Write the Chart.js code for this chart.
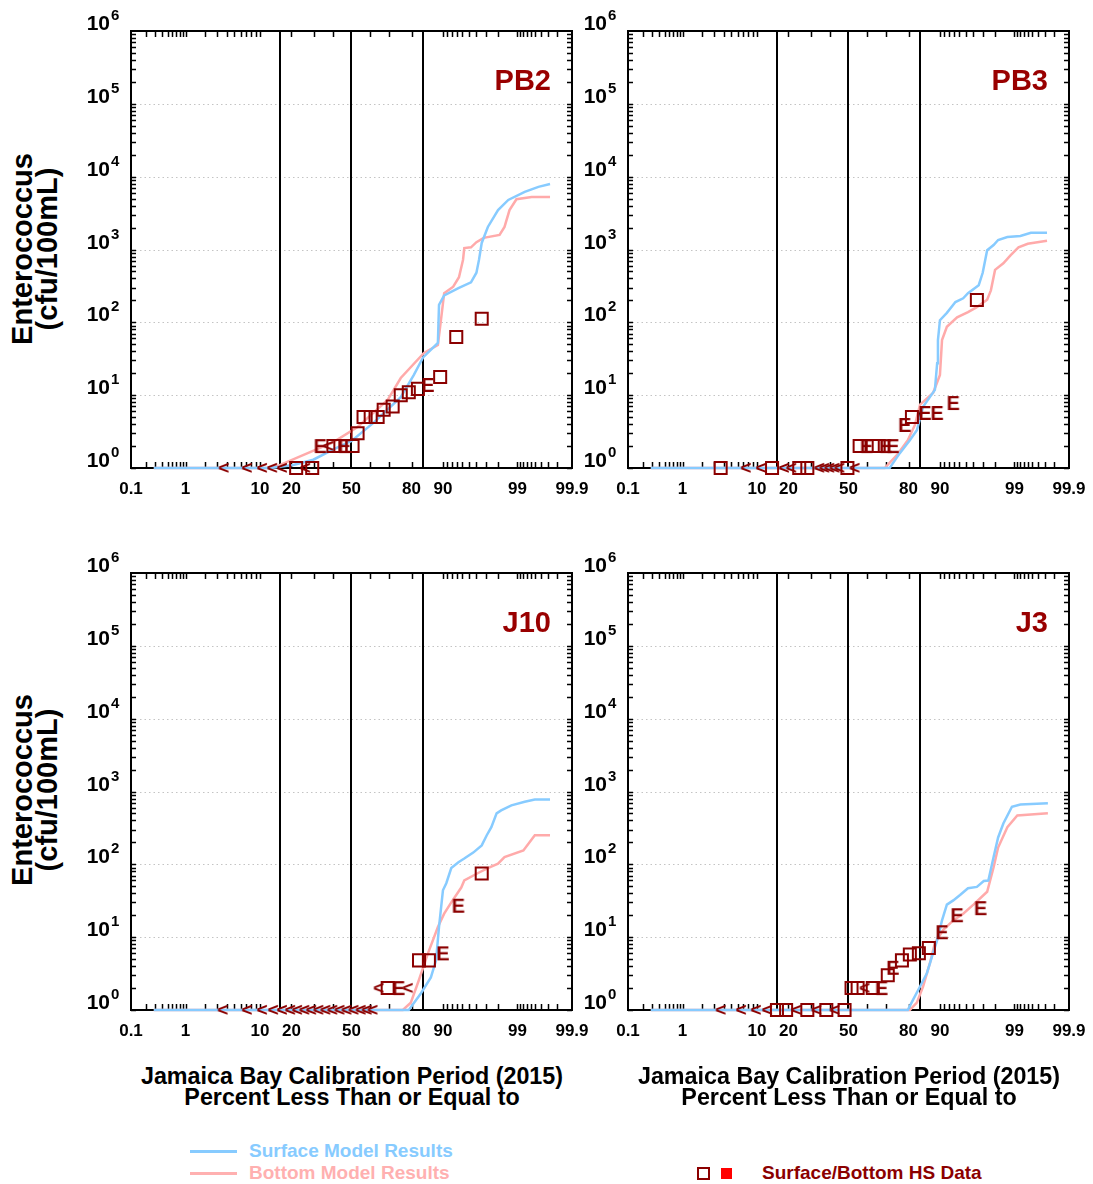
<!DOCTYPE html>
<html>
<head>
<meta charset="utf-8">
<script src="https://cdn.jsdelivr.net/npm/chart.js@4.4.1/dist/chart.umd.min.js"></script>
<style>
  body { margin: 0; background: #fff; width: 1093px; height: 1184px; position: relative; overflow: hidden;
         font-family: "Liberation Sans", Arial, sans-serif; }
  canvas { position: absolute; }
  .ytitle { position: absolute; width: 260px; height: 50px; text-align: center; font-weight: bold;
            font-size: 29px; line-height: 25px; transform: rotate(-90deg); }
  .xtitle { position: absolute; width: 480px; text-align: center; font-weight: bold; font-size: 23.3px; line-height: 21px; }
  .leg { position: absolute; font-weight: bold; font-size: 19px; line-height: 20px; white-space: nowrap; }
  .bar { position: absolute; height: 3px; width: 47px; }
</style>
</head>
<body>
<canvas id="c1" width="512" height="513" style="left:83px;top:0px"></canvas>
<canvas id="c2" width="512" height="513" style="left:580px;top:0px"></canvas>
<canvas id="c3" width="512" height="513" style="left:83px;top:542px"></canvas>
<canvas id="c4" width="512" height="513" style="left:580px;top:542px"></canvas>

<div class="ytitle" style="left:-95px;top:224px">Enterococcus<br>(cfu/100mL)</div>
<div class="ytitle" style="left:-95px;top:765px">Enterococcus<br>(cfu/100mL)</div>

<div class="xtitle" style="left:112px;top:1066px">Jamaica Bay Calibration Period (2015)<br>Percent Less Than or Equal to</div>
<div class="xtitle" style="left:609px;top:1066px">Jamaica Bay Calibration Period (2015)<br>Percent Less Than or Equal to</div>

<div class="bar" style="left:190px;top:1150px;background:#87cbff"></div>
<div class="leg" style="left:249px;top:1141px;color:#87cbff">Surface Model Results</div>
<div class="bar" style="left:190px;top:1172px;background:#ffb0b0"></div>
<div class="leg" style="left:249px;top:1163px;color:#ffb0b0">Bottom Model Results</div>
<div style="position:absolute;left:697px;top:1167px;width:9px;height:9px;border:2px solid #8b0000"></div>
<div style="position:absolute;left:721px;top:1168px;width:11px;height:11px;background:#ff0000"></div>
<div class="leg" style="left:762px;top:1163px;color:#8b0000">Surface/Bottom HS Data</div>

<script>
// x axis: percent less than or equal to (normal probability scale)
const xTickPct = [0.1, 1, 10, 20, 50, 80, 90, 99, 99.9];
const xTickLabels = ["0.1", "1", "10", "20", "50", "80", "90", "99", "99.9"];
const xMinorPct = [0.2, 0.3, 0.4, 0.5, 0.6, 0.7, 0.8, 0.9, 1, 2, 3, 4, 5, 6, 7, 8, 9, 10, 20, 30, 40, 60, 70, 80,
                   90, 91, 92, 93, 94, 95, 96, 97, 98, 99, 99.1, 99.2, 99.3, 99.4, 99.5, 99.6, 99.7, 99.8];
const refPct = [15.87, 50, 84.13];
const yExponents = [0, 1, 2, 3, 4, 5, 6];

// PB2
const pb2SurfPct = [0.28, 12.7, 20.7, 29.6, 40.0, 50.0, 62.2, 75.5, 80.9, 84.2, 88.7, 89.0, 90.3, 93.3, 95.3, 96.0, 96.3, 96.6, 97.2, 98.0, 98.6, 99.24, 99.56, 99.73];
const pb2SurfVal = [1, 1, 1.1, 1.3, 1.8, 2.35, 4.2, 9.4, 19, 33, 52, 174, 234, 295, 355, 480, 720, 1230, 2040, 3470, 4790, 6170, 7240, 7940];
const pb2BotPct = [0.28, 11.8, 14.2, 40.0, 53.4, 69.4, 75.5, 84.5, 88.7, 89.5, 90.3, 92.3, 93.4, 94.1, 94.3, 95.3, 96.0, 96.8, 98.1, 98.4, 98.66, 98.96, 99.42, 99.73];
const pb2BotVal = [1, 1, 1.03, 2.27, 3.66, 8.6, 17.2, 37.9, 48.9, 107, 251, 309, 417, 724, 1047, 1072, 1260, 1445, 1585, 2040, 3470, 4900, 5250, 5250];
const pb2ObsPct = [3.66, 7.12, 10.5, 13.3, 16.5, 21.9, 25.8, 29.1, 33.1, 37.3, 40.0, 43.8, 46.1, 50.6, 53.4, 56.7, 60.6, 64.3, 67.4, 71.8, 75.5, 78.9, 82.4, 85.8, 89.3, 92.9, 96.6];
const pb2ObsVal = [1, 1, 1, 1, 1, 1, 1, 1, 2, 2, 2, 2, 2, 2, 3, 5, 5, 5, 6.3, 7, 10, 11, 12.2, 13.8, 17.8, 63, 112];
const pb2ObsType = ['<', '<', '<', '<', '<', 'S', '<', 'S', 'E', '<', 'S', 'S', 'E', 'S', 'S', 'S', 'S', 'S', 'S', 'S', 'S', 'S', 'S', 'E', 'S', 'S', 'S'];

// PB3
const pb3SurfPct = [0.28, 71.8, 76.4, 80.5, 83.1, 85.2, 88.7, 89.3, 89.5, 90.0, 91.6, 93.3, 94.6, 95.3, 96.6, 97.0, 97.4, 97.9, 98.2, 98.7, 99.2, 99.47, 99.73];
const pb3SurfVal = [1, 1, 1.6, 2.4, 3.3, 6.9, 11.8, 27.5, 57, 107, 135, 190, 214, 251, 324, 479, 977, 1150, 1350, 1480, 1530, 1700, 1700];
const pb3BotPct = [0.28, 69.4, 75.1, 79.7, 82.4, 84.2, 88.2, 90.0, 90.5, 91.6, 93.6, 95.3, 96.4, 97.4, 97.7, 98.0, 98.5, 98.84, 99.14, 99.4, 99.73];
const pb3BotVal = [1, 1, 1.5, 2.4, 3.9, 7.4, 10.7, 19, 57, 87, 117, 138, 162, 204, 275, 525, 646, 832, 1070, 1200, 1320];
const pb3ObsPct = [3.66, 7.5, 11.0, 14.2, 18.3, 21.1, 24.5, 28.2, 34.1, 36.7, 39.4, 42.2, 44.9, 49.4, 53.4, 56.2, 60.0, 63.3, 66.4, 69.9, 73.3, 78.5, 81.3, 85.8, 89.3, 92.9, 96.4];
const pb3ObsVal = [1, 1, 1, 1, 1, 1, 1, 1, 1, 1, 1, 1, 1, 1, 1, 2, 2, 2, 2, 2, 2, 3.9, 5, 5.7, 5.7, 7.8, 203];
const pb3ObsType = ['S', '<', '<', 'S', '<', '<', 'S', 'S', '<', '<', '<', '<', '<', 'S', '<', 'S', 'E', 'S', 'S', 'E', 'E', 'E', 'S', 'E', 'E', 'E', 'S'];

// J10
const j10SurfPct = [0.28, 78.9, 83.5, 86.7, 88.2, 89.0, 90.0, 90.8, 91.9, 93.3, 94.3, 95.6, 96.6, 97.1, 97.5, 97.9, 98.2, 98.75, 99.24, 99.49, 99.73];
const j10SurfVal = [1, 1, 1.7, 2.8, 4.8, 13.8, 44, 55, 89, 107, 120, 145, 182, 251, 324, 501, 550, 646, 724, 776, 776];
const j10BotPct = [0.28, 76.4, 79.7, 82.8, 85.8, 88.7, 90.3, 91.9, 93.8, 94.3, 96.2, 97.2, 98.0, 98.4, 99.2, 99.49, 99.73];
const j10BotVal = [1, 1, 1.26, 2.6, 6.0, 13.8, 21, 30, 48, 60, 76, 89, 102, 126, 155, 251, 251];
const j10ObsPct = [3.55, 7.12, 10.5, 13.6, 16.5, 19.5, 22.3, 25.4, 28.6, 32.1, 35.7, 39.4, 43.3, 47.2, 51.1, 55.1, 58.4, 61.6, 64.8, 69.4, 74.6, 78.5, 82.8, 86.1, 90.0, 93.3, 96.6];
const j10ObsVal = [1, 1, 1, 1, 1, 1, 1, 1, 1, 1, 1, 1, 1, 1, 1, 1, 1, 1, 2, 2, 2, 2, 4.8, 4.8, 6.0, 27, 75];
const j10ObsType = ['<', '<', '<', '<', '<', '<', '<', '<', '<', '<', '<', '<', '<', '<', '<', '<', '<', '<', '<', 'S', 'E', '<', 'S', 'S', 'E', 'E', 'S'];

// J3
const j3SurfPct = [0.28, 79.7, 81.7, 84.2, 86.4, 87.9, 89.3, 90.5, 91.6, 92.9, 94.1, 95.3, 96.4, 97.1, 97.5, 97.9, 98.2, 98.5, 98.9, 99.2, 99.74];
const j3SurfVal = [1, 1, 1.38, 2.1, 3.2, 5.4, 9.1, 17, 28, 32, 38, 47, 49, 59, 60, 126, 234, 363, 617, 661, 692];
const j3BotPct = [0.28, 80.5, 83.1, 85.2, 87.3, 88.7, 90.8, 92.9, 94.6, 96.0, 97.4, 97.9, 98.2, 98.7, 99.1, 99.74];
const j3BotVal = [1, 1, 1.26, 2.1, 4.4, 8.3, 12.6, 17, 21, 28, 42, 91, 170, 324, 468, 501];
const j3ObsPct = [3.66, 6.6, 9.7, 12.7, 15.8, 19.1, 23.2, 28.2, 32.6, 37.8, 42.2, 47.8, 51.7, 55.1, 58.9, 63.3, 67.9, 70.9, 73.3, 77.3, 80.5, 83.8, 87.0, 90.5, 93.6, 96.8];
const j3ObsVal = [1, 1, 1, 1, 1, 1, 1, 1, 1, 1, 1, 1, 2, 2, 2, 2, 2, 3.0, 3.8, 4.8, 5.8, 6.0, 7.1, 11.7, 20, 25];
const j3ObsType = ['<', '<', '<', '<', 'S', 'S', '<', 'S', '<', 'S', '<', 'S', 'S', 'S', '<', 'S', 'E', 'S', 'E', 'S', 'S', 'S', 'S', 'E', 'E', 'E'];

const surfColor = '#87cbff';
const botColor = '#ffaaaa';
const obsColor = '#8b0000';
const FONT = '"Liberation Sans", Arial, sans-serif';

// inverse normal CDF (Acklam), turns a fraction into a probability-paper coordinate
function probit(p) {
  const a = [-39.69683028665376, 220.9460984245205, -275.9285104469687, 138.3577518672690, -30.66479806614716, 2.506628277459239];
  const b = [-54.47609879822406, 161.5858368580409, -155.6989798598866, 66.80131188771972, -13.28068155288572];
  const c = [-0.007784894002430293, -0.3223964580411365, -2.400758277161838, -2.549732539343734, 4.374664141464968, 2.938163982698783];
  const d = [0.007784695709041462, 0.3224671290700398, 2.445134137142996, 3.754408661907416];
  const lo = 0.02425;
  if (p < lo) {
    const q = Math.sqrt(-2 * Math.log(p));
    return (((((c[0] * q + c[1]) * q + c[2]) * q + c[3]) * q + c[4]) * q + c[5]) / ((((d[0] * q + d[1]) * q + d[2]) * q + d[3]) * q + 1);
  }
  if (p > 1 - lo) {
    const q = Math.sqrt(-2 * Math.log(1 - p));
    return -(((((c[0] * q + c[1]) * q + c[2]) * q + c[3]) * q + c[4]) * q + c[5]) / ((((d[0] * q + d[1]) * q + d[2]) * q + d[3]) * q + 1);
  }
  const q = p - 0.5, r = q * q;
  return (((((a[0] * r + a[1]) * r + a[2]) * r + a[3]) * r + a[4]) * r + a[5]) * q / (((((b[0] * r + b[1]) * r + b[2]) * r + b[3]) * r + b[4]) * r + 1);
}
const px = pct => probit(pct / 100);

function glyph(ch, font, dy) {
  const c = document.createElement('canvas');
  c.width = 26; c.height = 26;
  const g = c.getContext('2d');
  g.fillStyle = obsColor;
  g.font = font;
  g.textAlign = 'center';
  g.textBaseline = 'middle';
  g.fillText(ch, 13, 13 + dy);
  return c;
}
const glyphE = glyph('E', 'bold 20px ' + FONT, 1);
const glyphLt = glyph('<', 'bold 19px ' + FONT, 1);

// frame, ticks, grid, reference lines, y labels and station name
const framePlugin = {
  id: 'frame',
  beforeDatasetsDraw(chart, args, opts) {
    const { ctx, chartArea: a, scales: { x, y } } = chart;
    ctx.save();
    // dotted decade lines
    ctx.strokeStyle = '#c4c4c4';
    ctx.lineWidth = 1;
    ctx.setLineDash([1.5, 3]);
    yExponents.slice(1, -1).forEach(e => {
      const py = Math.round(y.getPixelForValue(Math.pow(10, e))) + 0.5;
      ctx.beginPath(); ctx.moveTo(a.left, py); ctx.lineTo(a.right, py); ctx.stroke();
    });
    ctx.setLineDash([]);
    // tick marks
    ctx.strokeStyle = '#000';
    ctx.lineWidth = 1.5;
    ctx.beginPath();
    xMinorPct.forEach(p => {
      const xx = Math.round(x.getPixelForValue(px(p))) + 0.5;
      ctx.moveTo(xx, a.top); ctx.lineTo(xx, a.top + 6);
      ctx.moveTo(xx, a.bottom); ctx.lineTo(xx, a.bottom - 6);
    });
    for (let e = 0; e < 6; e++) {
      for (let k = 1; k <= 9; k++) {
        const yy = Math.round(y.getPixelForValue(k * Math.pow(10, e))) + 0.5;
        ctx.moveTo(a.left, yy); ctx.lineTo(a.left + 5, yy);
        ctx.moveTo(a.right, yy); ctx.lineTo(a.right - 5, yy);
      }
    }
    ctx.stroke();
    // reference lines at -1 sigma, median, +1 sigma
    ctx.lineWidth = 2;
    refPct.forEach(p => {
      const xx = Math.round(x.getPixelForValue(px(p)));
      ctx.beginPath(); ctx.moveTo(xx, a.top); ctx.lineTo(xx, a.bottom); ctx.stroke();
    });
    // frame
    ctx.strokeRect(a.left, a.top, a.right - a.left, a.bottom - a.top);
    // y labels 10^n
    ctx.fillStyle = '#000';
    ctx.textBaseline = 'alphabetic';
    yExponents.forEach(e => {
      const yy = y.getPixelForValue(Math.pow(10, e));
      ctx.font = 'bold 21px ' + FONT;
      ctx.textAlign = 'right';
      ctx.fillText('10', a.left - 21, yy - 1);
      ctx.font = 'bold 15px ' + FONT;
      ctx.textAlign = 'left';
      ctx.fillText(String(e), a.left - 20, yy - 11);
    });
    // station name
    ctx.fillStyle = '#990000';
    ctx.font = 'bold 29px ' + FONT;
    ctx.textAlign = 'right';
    ctx.fillText(opts.label, a.right - 21, a.top + 59);
    ctx.restore();
  }
};

function makePanel(id, label, surfPct, surfVal, botPct, botVal, obsPct, obsVal, obsType) {
  const pts = (p, v) => p.map((q, i) => ({ x: px(q), y: v[i] }));
  return new Chart(document.getElementById(id), {
    type: 'scatter',
    data: {
      datasets: [
        {
          label: 'Surface/Bottom HS Data',
          data: pts(obsPct, obsVal),
          clip: false,
          pointStyle: c => obsType[c.dataIndex] === 'E' ? glyphE : obsType[c.dataIndex] === '<' ? glyphLt : 'rect',
          pointRadius: 8.5,
          borderColor: obsColor,
          borderWidth: 2,
          backgroundColor: 'rgba(0,0,0,0)'
        },
        {
          label: 'Surface Model Results',
          data: pts(surfPct, surfVal),
          showLine: true,
          clip: false,
          pointRadius: 0,
          borderColor: surfColor,
          borderWidth: 2.5,
          tension: 0
        },
        {
          label: 'Bottom Model Results',
          data: pts(botPct, botVal),
          showLine: true,
          clip: false,
          pointRadius: 0,
          borderColor: botColor,
          borderWidth: 2.5,
          tension: 0
        }
      ]
    },
    options: {
      responsive: false,
      animation: false,
      events: [],
      layout: { padding: { left: 48, top: 31, right: 23, bottom: 0 } },
      plugins: {
        legend: { display: false },
        tooltip: { enabled: false },
        frame: { label: label }
      },
      scales: {
        x: {
          type: 'linear',
          min: px(0.1),
          max: px(99.9),
          grid: { display: false },
          border: { display: false },
          afterBuildTicks: s => { s.ticks = xTickPct.map(p => ({ value: px(p) })); },
          afterFit: s => { s.height = 45; },
          ticks: {
            autoSkip: false,
            maxRotation: 0,
            padding: 3,
            color: '#000',
            font: { family: FONT, size: 17, weight: 'bold' },
            callback: (v, i) => xTickLabels[i]
          }
        },
        y: { type: 'logarithmic', display: false, min: 1, max: 1e6 }
      }
    },
    plugins: [framePlugin]
  });
}

makePanel('c1', 'PB2', pb2SurfPct, pb2SurfVal, pb2BotPct, pb2BotVal, pb2ObsPct, pb2ObsVal, pb2ObsType);
makePanel('c2', 'PB3', pb3SurfPct, pb3SurfVal, pb3BotPct, pb3BotVal, pb3ObsPct, pb3ObsVal, pb3ObsType);
makePanel('c3', 'J10', j10SurfPct, j10SurfVal, j10BotPct, j10BotVal, j10ObsPct, j10ObsVal, j10ObsType);
makePanel('c4', 'J3', j3SurfPct, j3SurfVal, j3BotPct, j3BotVal, j3ObsPct, j3ObsVal, j3ObsType);
</script>
</body>
</html>
